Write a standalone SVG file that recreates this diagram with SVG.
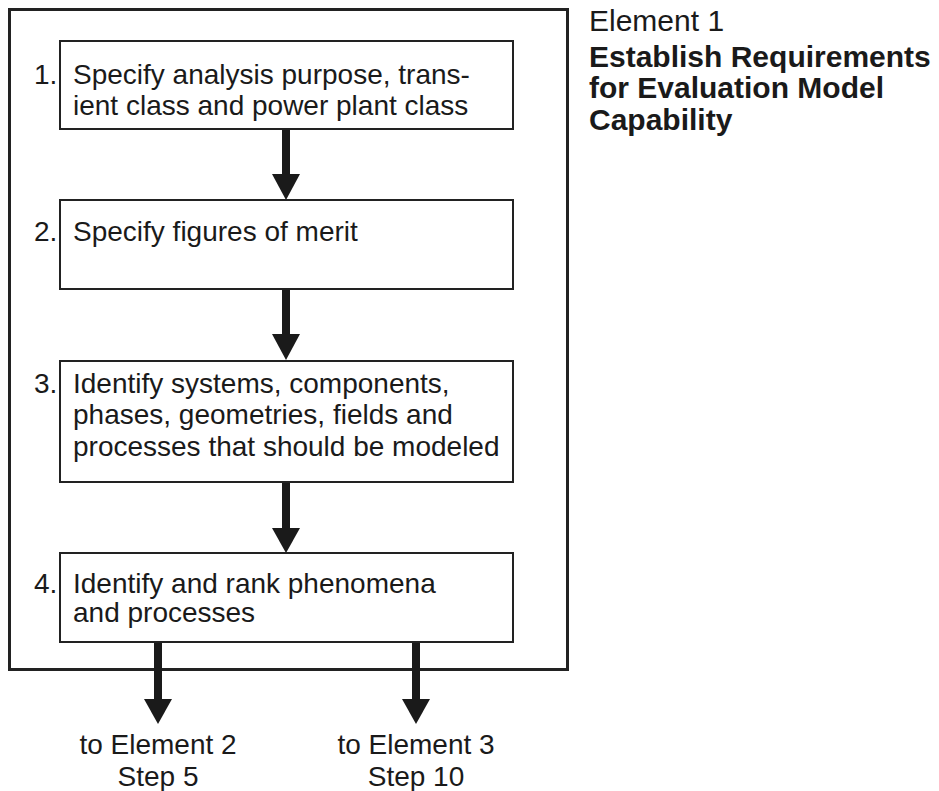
<svg xmlns="http://www.w3.org/2000/svg" width="939" height="791" viewBox="0 0 939 791">
<style>
text{font-family:"Liberation Sans",Arial,sans-serif;font-size:28px;fill:#1a1a1a}
.t{font-size:30px}
.b{font-weight:bold}
.c{text-anchor:middle}
.box{fill:#fff;stroke:#222;stroke-width:2}
.outer{fill:#fff;stroke:#222;stroke-width:3}
.sh{stroke:#1a1a1a;stroke-width:8;fill:none}
.hd{fill:#1a1a1a}
</style>
<rect width="939" height="791" fill="#fff"/>
<g id="outer"><rect class="outer" x="9.5" y="9.5" width="558" height="660"/></g>
<g id="title">
<text class="t" x="589" y="31">Element 1</text>
<text class="t b" x="589" y="67">Establish Requirements</text>
<text class="t b" x="589" y="98">for Evaluation Model</text>
<text class="t b" x="589" y="130">Capability</text>
</g>
<g id="connectors">
<line class="sh" x1="286" y1="129" x2="286" y2="176"/><polygon class="hd" points="272,174 300,174 286,200"/>
<line class="sh" x1="286" y1="289" x2="286" y2="336"/><polygon class="hd" points="272,334 300,334 286,360"/>
<line class="sh" x1="286" y1="482" x2="286" y2="530"/><polygon class="hd" points="272,528 300,528 286,553"/>
<line class="sh" x1="158" y1="642" x2="158" y2="701"/><polygon class="hd" points="144,699 172,699 158,724"/>
<line class="sh" x1="416" y1="642" x2="416" y2="701"/><polygon class="hd" points="402,699 430,699 416,724"/>
</g>
<g id="step1">
<rect class="box" x="60" y="41" width="453" height="88"/>
<text x="34" y="84">1.</text>
<text x="73" y="84">Specify analysis purpose, trans-</text>
<text x="73" y="115">ient class and power plant class</text>
</g>
<g id="step2">
<rect class="box" x="60" y="200" width="453" height="89"/>
<text x="34" y="241">2.</text>
<text x="73" y="241">Specify figures of merit</text>
</g>
<g id="step3">
<rect class="box" x="60" y="361" width="453" height="121"/>
<text x="34" y="393">3.</text>
<text x="73" y="393">Identify systems, components,</text>
<text x="73" y="424">phases, geometries, fields and</text>
<text x="73" y="456">processes that should be modeled</text>
</g>
<g id="step4">
<rect class="box" x="60" y="553" width="453" height="89"/>
<text x="34" y="593">4.</text>
<text x="73" y="593">Identify and rank phenomena</text>
<text x="73" y="622">and processes</text>
</g>
<g id="out2"><text class="c" x="158" y="754">to Element 2</text><text class="c" x="158" y="786">Step 5</text></g>
<g id="out3"><text class="c" x="416" y="754">to Element 3</text><text class="c" x="416" y="786">Step 10</text></g>
</svg>
